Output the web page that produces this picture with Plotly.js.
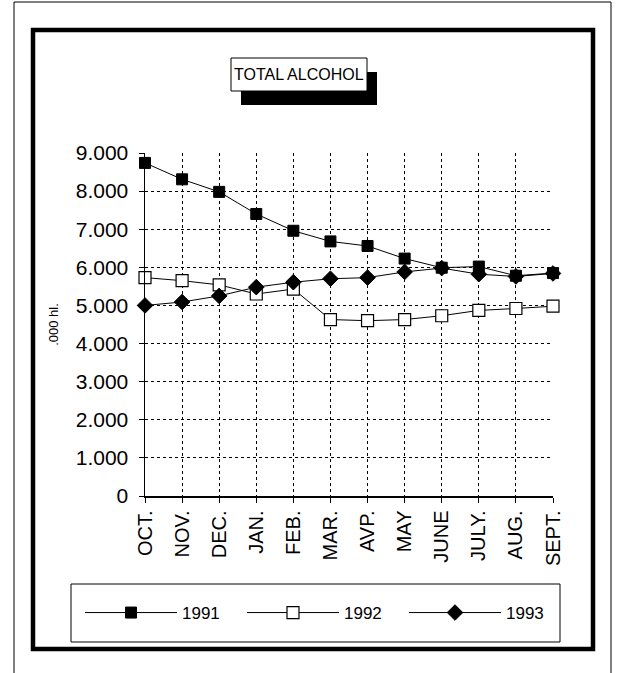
<!DOCTYPE html>
<html>
<head>
<meta charset="utf-8">
<script src="https://cdn.plot.ly/plotly-3.0.1.min.js"></script>
<style>
  html, body { margin: 0; padding: 0; background: #fff; }
  #chart { width: 625px; height: 673px; }
</style>
</head>
<body>
<div id="chart"></div>
<script>
// Monthly totals, thousand hectolitres, October to September
const months = ['OCT.', 'NOV.', 'DEC.', 'JAN.', 'FEB.', 'MAR.', 'AVP.', 'MAY', 'JUNE', 'JULY.', 'AUG.', 'SEPT.'];
const y1991 = [8740, 8310, 7980, 7400, 6960, 6680, 6560, 6230, 5990, 6020, 5780, 5850];
const y1992 = [5730, 5650, 5540, 5300, 5430, 4630, 4600, 4630, 4730, 4870, 4920, 4980];
const y1993 = [5000, 5090, 5250, 5480, 5610, 5700, 5730, 5880, 5980, 5820, 5760, 5840];
const seriesNames = ['1991', '1992', '1993'];
const yTickVals = [0, 1000, 2000, 3000, 4000, 5000, 6000, 7000, 8000, 9000];
const yTickText = ['0', '1.000', '2.000', '3.000', '4.000', '5.000', '6.000', '7.000', '8.000', '9.000'];

const W = 625, H = 673;
const M = { l: 145, r: 72, t: 153, b: 177 };
const PW = W - M.l - M.r, PH = H - M.t - M.b;
// pixel -> paper helpers for frame decorations
const px = v => (v - M.l) / PW;
const py = v => (H - M.b - v) / PH;

const FONT = 'Liberation Sans, Arial, sans-serif';
const ink = '#000';

const traces = [
  { y: y1991, name: seriesNames[0], marker: { symbol: 'square', size: 11, color: ink, line: { color: ink, width: 1 } } },
  { y: y1992, name: seriesNames[1], marker: { symbol: 'square', size: 12, color: '#fff', line: { color: ink, width: 1.2 } } },
  { y: y1993, name: seriesNames[2], marker: { symbol: 'diamond', size: 12, color: ink, line: { color: ink, width: 1 } } }
].map(t => Object.assign({
  x: months, type: 'scatter', mode: 'lines+markers',
  line: { color: ink, width: 1 }, cliponaxis: false
}, t));

const box = (x0, y0, x1, y1, extra) => Object.assign({
  type: 'rect', xref: 'paper', yref: 'paper',
  x0: px(x0), x1: px(x1), y0: py(y0), y1: py(y1)
}, extra);

// title box geometry (pixels) and drop-shadow offset
const TB = { x0: 231, x1: 367, y0: 58, y1: 91, dx: 10, dy: 14 };

const layout = {
  width: W, height: H,
  margin: M,
  paper_bgcolor: '#fff', plot_bgcolor: '#fff',
  showlegend: true,
  font: { family: FONT, color: ink },
  xaxis: {
    type: 'category', range: [0, 11],
    showgrid: true, gridcolor: ink, gridwidth: 1, griddash: 'dot',
    showline: true, linecolor: ink, linewidth: 1.5,
    ticks: 'outside', ticklen: 5, tickcolor: ink, tickwidth: 1,
    tickangle: -90, tickfont: { family: FONT, size: 20, color: ink },
    zeroline: false, fixedrange: true
  },
  yaxis: {
    range: [0, 9000], tickvals: yTickVals, ticktext: yTickText,
    showgrid: true, gridcolor: ink, gridwidth: 1, griddash: 'dot',
    showline: true, linecolor: ink, linewidth: 1.5,
    ticks: 'outside', ticklen: 5, tickcolor: ink, tickwidth: 1,
    ticklabelstandoff: 6,
    tickfont: { family: FONT, size: 21, color: ink },
    automargin: true,
    title: { text: '.000 hl.', font: { family: FONT, size: 13, color: ink }, standoff: 14 },
    zeroline: false, fixedrange: true
  },
  legend: {
    orientation: 'h', xref: 'paper', yref: 'paper',
    x: px(80), xanchor: 'left', y: py(613), yanchor: 'middle',
    font: { family: FONT, size: 17, color: ink },
    itemwidth: 92, entrywidth: 55, borderwidth: 0, bgcolor: 'rgba(0,0,0,0)',
    itemclick: false, itemdoubleclick: false
  },
  shapes: [
    // outer thin frame (open at the bottom edge)
    box(14, 2, 611, 690, { line: { color: ink, width: 1 }, layer: 'below' }),
    // heavy inner frame
    box(33, 30, 593, 649, { line: { color: ink, width: 4.5 }, layer: 'below' }),
    // legend frame
    box(71, 584, 560, 642, { line: { color: ink, width: 1 }, layer: 'below' }),
    // title drop shadow + title box
    box(TB.x0 + TB.dx, TB.y0 + TB.dy, TB.x1 + TB.dx, TB.y1 + TB.dy, { line: { width: 0 }, fillcolor: ink, layer: 'above' }),
    box(TB.x0, TB.y0, TB.x1, TB.y1, { line: { color: ink, width: 1 }, fillcolor: '#fff', layer: 'above' })
  ],
  annotations: [
    { text: 'TOTAL ALCOHOL', xref: 'paper', yref: 'paper',
      x: px((TB.x0 + TB.x1) / 2), y: py((TB.y0 + TB.y1) / 2),
      xanchor: 'center', yanchor: 'middle', showarrow: false,
      font: { family: FONT, size: 16, color: ink } }
  ]
};

Plotly.newPlot('chart', traces, layout, { displayModeBar: false, staticPlot: true });
</script>
</body>
</html>
